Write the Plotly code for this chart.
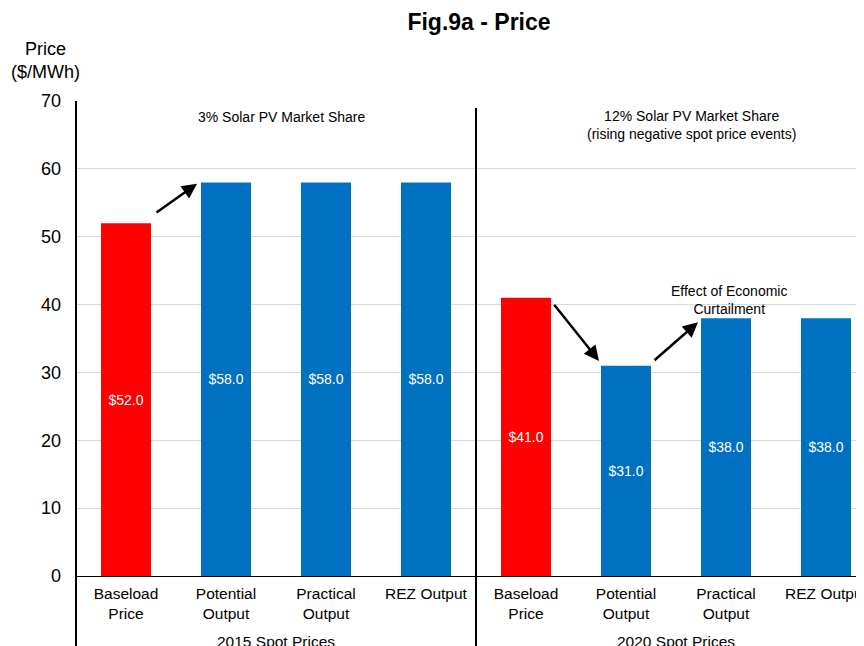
import plotly.graph_objects as go

# data
categories = ["Baseload<br>Price", "Potential<br>Output", "Practical<br>Output", "REZ Output",
              "Baseload<br>Price", "Potential<br>Output", "Practical<br>Output", "REZ Output"]
groups = ["2015 Spot Prices", "2020 Spot Prices"]
prices = [52.0, 58.0, 58.0, 58.0, 41.0, 31.0, 38.0, 38.0]
bar_colors = ["#FF0000", "#0070C0", "#0070C0", "#0070C0",
              "#FF0000", "#0070C0", "#0070C0", "#0070C0"]
y_ticks = [0, 10, 20, 30, 40, 50, 60, 70]

FONT = "Liberation Sans, Arial, sans-serif"
xpos = list(range(len(prices)))

# page body has an 8px margin, so the figure is sized to fit inside the window
W, H = 856, 638
L, T, B = 68, 93, 70
PLOT_H = H - T - B

fig = go.Figure(go.Bar(
    x=xpos, y=prices, width=0.5,
    marker=dict(color=bar_colors, line=dict(width=0)),
    texttemplate="$%{y:.1f}", textposition="inside",
    insidetextanchor="middle", textangle=0,
    textfont=dict(color="white", size=14, family=FONT),
    hoverinfo="skip",
))

fig.update_layout(
    width=W, height=H,
    paper_bgcolor="white", plot_bgcolor="white",
    margin=dict(l=L, r=0, t=T, b=B, autoexpand=False),
    font=dict(family=FONT, color="black"),
    showlegend=False,
    title=dict(text="<b>Fig.9a - Price</b>", x=471 / W, xanchor="center",
               y=1 - 14 / H, yanchor="middle", font=dict(size=23, color="black")),
)

fig.update_xaxes(
    range=[-0.5, 7.38], tickvals=xpos, ticktext=categories,
    tickfont=dict(size=15.5, color="black"), showgrid=False,
    showline=True, linecolor="black", linewidth=1, ticks="", zeroline=False,
    ticklabelstandoff=3, ticklabeloverflow="allow", automargin=False,
)
fig.update_yaxes(
    range=[0, 70], tickvals=y_ticks, tickfont=dict(size=18, color="black"),
    showgrid=True, gridcolor="#D9D9D9", gridwidth=1, zeroline=False,
    showline=False, ticks="", ticklabelstandoff=14, automargin=False,
)

# axis line on the left and group separator, both running down through the labels
fig.add_shape(type="line", xref="paper", yref="paper", x0=0, x1=0, y0=-0.2, y1=1,
              line=dict(color="black", width=2))
fig.add_shape(type="line", xref="x", yref="paper", x0=3.5, x1=3.5, y0=-0.2,
              y1=1 - 7 / PLOT_H, line=dict(color="black", width=2))

# group labels under the category labels
for gx, g in zip([1.5, 5.5], groups):
    fig.add_annotation(x=gx, y=-65 / PLOT_H, xref="x", yref="paper", text=g,
                       showarrow=False, yanchor="middle", font=dict(size=15.5))

# y-axis title
fig.add_annotation(x=-31 / (W - L), y=1 + 40 / PLOT_H, xref="paper", yref="paper",
                   text="Price<br>($/MWh)", showarrow=False, xanchor="center",
                   yanchor="middle", font=dict(size=18))

# panel notes
fig.add_annotation(x=1.56, y=67.6, text="3% Solar PV Market Share", showarrow=False,
                   font=dict(size=14))
fig.add_annotation(x=5.65, y=66.5, text="12% Solar PV Market Share<br>(rising negative spot price events)",
                   showarrow=False, font=dict(size=14))
fig.add_annotation(x=6.03, y=40.7, text="Effect of Economic<br>Curtailment",
                   showarrow=False, font=dict(size=14))

# arrows (tail -> head)
arrows = [((0.29, 53.4), (0.71, 57.8)),
          ((4.27, 40.2), (4.73, 31.7)),
          ((5.27, 31.6), (5.72, 37.4))]
for (tx, ty), (hx, hy) in arrows:
    fig.add_annotation(x=hx, y=hy, ax=tx, ay=ty, xref="x", yref="y", axref="x", ayref="y",
                       text="", showarrow=True, arrowhead=2, arrowsize=1.2,
                       arrowwidth=2.5, arrowcolor="black")

fig.write_html("out.html")
